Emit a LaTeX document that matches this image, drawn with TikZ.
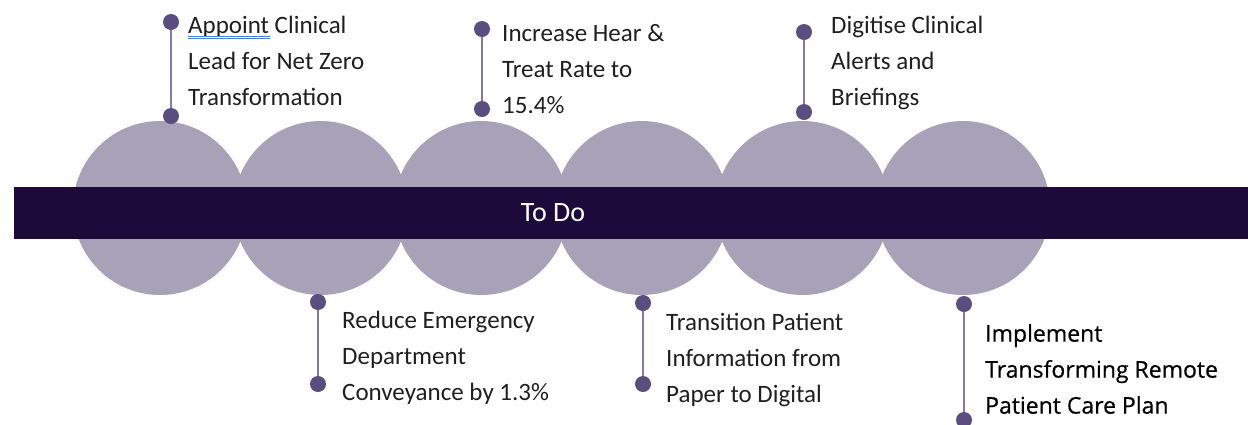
\documentclass[tikz,border=0pt]{standalone}
\usepackage{fontspec}
\setmainfont{Carlito}
\newfontfamily\segoe[FakeBold=0.6]{Open Sans}
\usetikzlibrary{positioning}
\definecolor{circ}{HTML}{A8A2B9}
\definecolor{barc}{HTML}{1C0A3B}
\definecolor{dotc}{HTML}{5A4E80}
\definecolor{linec}{HTML}{8479A6}
\definecolor{spell}{HTML}{4A7FE0}
\tikzset{
  bubble/.style={circle, fill=circ, draw=none, minimum size=174pt, inner sep=0pt},
  dotn/.style={circle, fill=dotc, draw=none, minimum size=16pt, inner sep=0pt},
  conn/.style={draw=linec, line width=2pt},
  lbl/.style={anchor=west, inner sep=0pt, align=left, text=black!88,
    font=\fontsize{25}{36}\selectfont},
  lbl6/.style={anchor=west, inner sep=0pt, align=left, text=black,
    font=\segoe\fontsize{23}{36}\selectfont},
}
\begin{document}
\begin{tikzpicture}[x=1pt,y=-1pt]
\useasboundingbox (0,0) rectangle (1248,424);
% bubbles
\foreach \i/\cx in {1/160,2/320.6,3/481.2,4/641.8,5/802.4,6/963} {
  \node[bubble] (b\i) at (\cx,208) {};
}
% bar
\node[fill=barc, draw=none, minimum width=1234pt, minimum height=52pt, inner sep=0pt, anchor=west]
  (bar) at (14,213) {};
\node[text=white, font=\fontsize{28}{30}\selectfont, inner sep=0pt] (todo) at (553,213) {To Do};
% dots
\node[dotn] (d1a) at (171,22) {};
\node[dotn] (d1b) at (171,116) {};
\node[dotn] (d2a) at (482,29) {};
\node[dotn] (d2b) at (482,109) {};
\node[dotn] (d3a) at (804,32) {};
\node[dotn] (d3b) at (804,112) {};
\node[dotn] (d4a) at (318,302) {};
\node[dotn] (d4b) at (318,384) {};
\node[dotn] (d5a) at (643,303) {};
\node[dotn] (d5b) at (643,384) {};
\node[dotn] (d6a) at (964,304) {};
\node[dotn] (d6b) at (964,420) {};
\foreach \n in {1,...,6} { \draw[conn] (d\n a) -- (d\n b); }
% labels
\node[lbl] (t1) at (188,61) {Appoint Clinical\\Lead for Net Zero\\Transformation};
\node[lbl] (t2) at (502,69) {Increase Hear \&\\Treat Rate to\\15.4\%};
\node[lbl] (t3) at (831,63) {Digitise Clinical\\Alerts and\\Briefings};
\node[lbl] (t4) at (342,358) {Reduce Emergency\\Department\\Conveyance by 1.3\%};
\node[lbl] (t5) at (666,360) {Transition Patient\\Information from\\Paper to Digital};
\node[lbl6] (t6) at (985,369) {Implement\\Transforming Remote\\Patient Care Plan};
% spell-check underline
\draw[spell, line width=0.8pt] (188,36.5) -- (270,36.5);
\draw[spell, line width=0.8pt] (188,38.8) -- (270,38.8);
\end{tikzpicture}
\end{document}
